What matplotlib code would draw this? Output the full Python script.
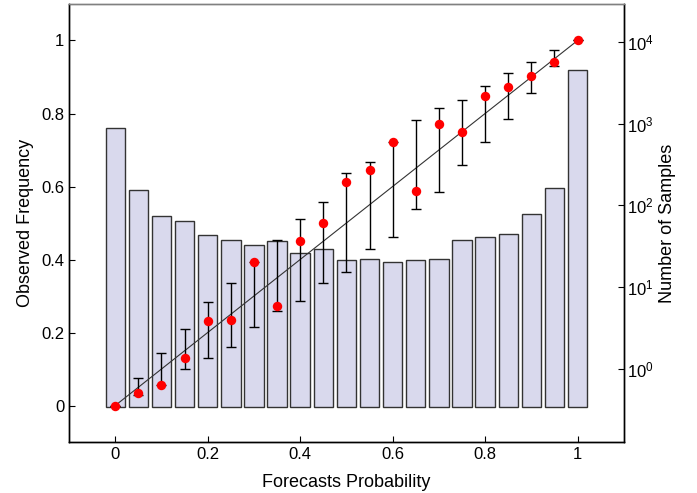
import numpy as np
import matplotlib.pyplot as plt
from matplotlib.ticker import NullLocator

plt.rcParams['font.family'] = ['Liberation Sans', 'DejaVu Sans']

# Forecast probability bins
prob = [0, 0.05, 0.1, 0.15, 0.2, 0.25, 0.3, 0.35, 0.4, 0.45, 0.5,
        0.55, 0.6, 0.65, 0.7, 0.75, 0.8, 0.85, 0.9, 0.95, 1.0]
# Observed frequency in each bin
observed = [0.0, 0.033, 0.056, 0.129, 0.232, 0.234, 0.394, 0.274, 0.450, 0.501, 0.612,
            0.646, 0.721, 0.587, 0.771, 0.750, 0.847, 0.872, 0.903, 0.942, 1.0]
# Error bar bounds
err_low = [0.0, 0.03, 0.055, 0.10, 0.130, 0.161, 0.215, 0.259, 0.287, 0.336, 0.365,
           0.428, 0.462, 0.538, 0.584, 0.660, 0.721, 0.784, 0.856, 0.930, 1.0]
err_high = [0.0, 0.075, 0.145, 0.21, 0.284, 0.336, 0.394, 0.454, 0.511, 0.557, 0.638,
            0.668, 0.721, 0.783, 0.816, 0.838, 0.876, 0.912, 0.942, 0.975, 1.0]
# Number of samples per bin
n_samples = [873, 155, 74.6, 64.8, 43.6, 37.9, 33, 36, 26.3, 29.4, 21.3,
             21.8, 20.4, 21.3, 22.2, 37.2, 40.5, 44, 78, 162, 4570]

x = np.array(prob)
obs = np.array(observed)
yerr = [obs - np.array(err_low), np.array(err_high) - obs]

fig = plt.figure(figsize=(6.97, 4.93), dpi=100)
ax = fig.add_axes([0.099, 0.1034, 0.796, 0.8885])
ax2 = ax.twinx()

# bars on the log axis (behind)
base = 0.336
ax2.bar(x, np.array(n_samples) - base, bottom=base, width=0.042,
        color='#d9d9ed', edgecolor='#333333', linewidth=1)
ax2.set_yscale('log')
ax2.set_ylim(10 ** -0.9, 10 ** 4.465)
ax2.set_yticks([1, 10, 100, 1000, 10000])
ax2.yaxis.set_minor_locator(NullLocator())
ax2.set_ylabel('Number of Samples', fontsize=13, labelpad=4)

# reliability curve on the left axis (in front)
ax.set_zorder(ax2.get_zorder() + 1)
ax.patch.set_visible(False)
ax.plot([0, 1], [0, 1], color='#333333', linewidth=0.8)
ax.errorbar(x, obs, yerr=yerr, fmt='none', ecolor='black', elinewidth=1,
            capsize=3.3, capthick=1)
ax.plot(x, obs, 'o', color='red', markersize=6.8, markeredgewidth=0)

ax.set_xlim(-0.1, 1.1)
ax.set_ylim(-0.1, 1.1)
ticks = [0, 0.2, 0.4, 0.6, 0.8, 1]
tick_labels = ['0', '0.2', '0.4', '0.6', '0.8', '1']
ax.set_xticks(ticks)
ax.set_xticklabels(tick_labels)
ax.set_yticks(ticks)
ax.set_yticklabels(tick_labels)
ax.set_xlabel('Forecasts Probability', fontsize=13, labelpad=9)
ax.set_ylabel('Observed Frequency', fontsize=13, labelpad=5)

for a in (ax, ax2):
    a.tick_params(direction='in', length=4, labelsize=12, width=0.8)
    for s in a.spines.values():
        s.set_linewidth(1)
    a.spines['top'].set_color('#808080')
ax2.tick_params(pad=2)

fig.savefig('out.png', dpi=100)
